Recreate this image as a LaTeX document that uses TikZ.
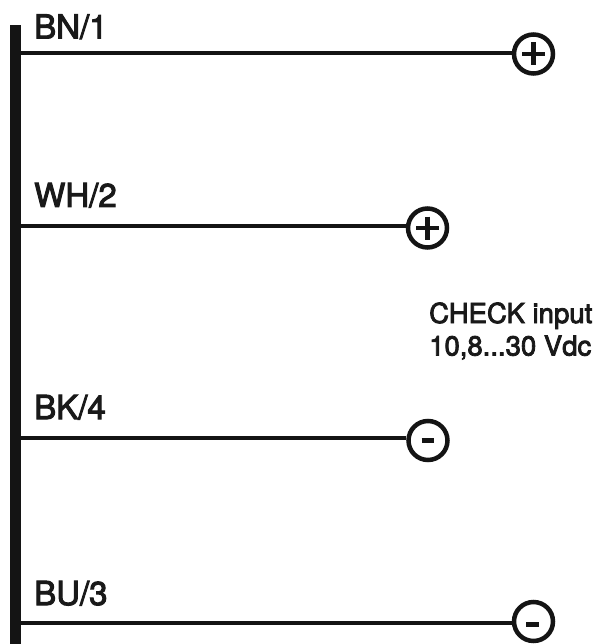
\documentclass[tikz,border=0pt]{standalone}
\usepackage{fontspec}
\newfontfamily\medfont[FakeBold=3]{TeX Gyre Heros}
\tikzset{
  x=1pt,y=-1pt,
  ink/.style={draw=black!92!white},
  wire/.style={ink,line width=4pt},
  term/.style={circle,ink,line width=4.5pt,minimum size=39pt,inner sep=0pt,fill=white},
  sign/.style={line width=4.6pt,draw=black!92!white},
  railbar/.style={fill=black!92!white,draw=none,rectangle,inner sep=0pt,minimum width=11pt,anchor=north west},
  wirelabel/.style={anchor=base west,inner sep=0pt,font=\medfont\fontsize{33}{33}\selectfont,text=black!90!white},
  note/.style={anchor=base west,inner sep=0pt,font=\medfont\fontsize{27.5}{27.5}\selectfont,text=black!90!white}
}
\begin{document}
\begin{tikzpicture}
\useasboundingbox (0,0) rectangle (599,644);
\node[railbar,minimum height=619pt] (bar) at (10,25) {};
\node[term] (t1) at (533.5,54) {};
\node[term] (t2) at (427.5,228) {};
\node[term] (t3) at (428,440.5) {};
\node[term] (t4) at (533.5,621.5) {};
\draw[wire] (t1.west) ++(0,-0.5) -- (bar.east |- 0,53.5);
\draw[wire] (t2.west) ++(0,-2) -- (bar.east |- 0,226);
\draw[wire] (t3.west) ++(0,-2.5) -- (bar.east |- 0,438);
\draw[wire] (t4.west) ++(0,1) -- (bar.east |- 0,622.5);
\draw[sign] (522,54) -- (545,54) (533.5,42.5) -- (533.5,65.5);
\draw[sign] (416,228) -- (439,228) (427.5,216.5) -- (427.5,239.5);
\draw[sign,line width=5pt] (421.5,440.5) -- (434,440.5);
\draw[sign,line width=5pt] (526,624.5) -- (538.5,624.5);
\node[wirelabel] (l1) at (34,38.5) {BN/1};
\node[wirelabel] (l2) at (34,207) {WH/2};
\node[wirelabel] (l3) at (34,419) {BK/4};
\node[wirelabel] (l4) at (34,605) {BU/3};
\node[note] (n1) at (429,323) {CHECK input};
\node[note] (n2) at (429,355.5) {10,8...30 Vdc};
\end{tikzpicture}
\end{document}
